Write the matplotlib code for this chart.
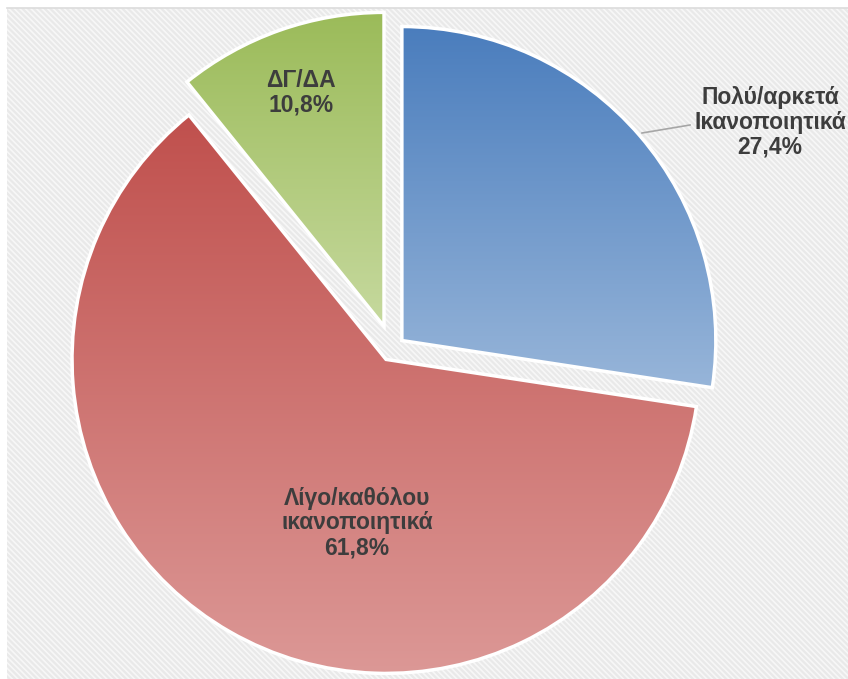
import numpy as np
import matplotlib
matplotlib.use("Agg")
import matplotlib.pyplot as plt
from matplotlib.patches import Rectangle, Wedge
from matplotlib.colors import LinearSegmentedColormap

# ---- data ----
categories = ["Πολύ/αρκετά\nΙκανοποιητικά", "Λίγο/καθόλου\nικανοποιητικά", "ΔΓ/ΔΑ"]
values = [27.4, 61.8, 10.8]
pct_labels = ["27,4%", "61,8%", "10,8%"]

# ---- style ----
top_colors = ["#4a7dbd", "#c0504d", "#9bbb59"]
bottom_colors = ["#97b5d9", "#dc9896", "#c6d99e"]
explode = [13, 12, 24]          # pixels offset
W, H = 848, 679
center = (392, H - 349)
radius = 314
label_pos = [(770, H - 122), (357, H - 523), (301, H - 93)]
text_color = "#3d3d3d"

fig = plt.figure(figsize=(W / 100, H / 100), dpi=100)
fig.patch.set_facecolor("white")
ax = fig.add_axes([0, 0, 1, 1])
ax.set_xlim(0, W)
ax.set_ylim(0, H)
ax.set_aspect("equal")
ax.axis("off")

# textured background
plt.rcParams["hatch.linewidth"] = 1.2
bg = Rectangle((7, 0), W - 7, H - 8, facecolor="#e9e9e9", edgecolor="#f7f7f7",
               hatch="\\\\\\\\\\\\", linewidth=0, zorder=0)
ax.add_patch(bg)
ax.plot([7, W], [H - 8, H - 8], color="#dcdcdc", lw=1.2, zorder=0.5)

wedges, _ = ax.pie(values, explode=explode, startangle=90, counterclock=False,
                   radius=radius, center=center, frame=False,
                   wedgeprops=dict(edgecolor="none", linewidth=0))
ax.set_xlim(0, W)
ax.set_ylim(0, H)

grad = np.linspace(0, 1, 256).reshape(-1, 1)
for w, c_top, c_bot in zip(wedges, top_colors, bottom_colors):
    path = w.get_path().transformed(w.get_patch_transform())
    x0, y0 = path.vertices.min(axis=0)
    x1, y1 = path.vertices.max(axis=0)
    cmap = LinearSegmentedColormap.from_list("g", [c_bot, c_top])
    im = ax.imshow(grad, cmap=cmap, extent=[x0, x1, y0, y1], origin="lower",
                   aspect="auto", zorder=2, interpolation="bilinear")
    im.set_clip_path(w)
    edge = Wedge(w.center, w.r, w.theta1, w.theta2, facecolor="none",
                 edgecolor="white", linewidth=2.5, zorder=3)
    ax.add_patch(edge)

ax.set_xlim(0, W)
ax.set_ylim(0, H)

for cat, pct, (lx, ly) in zip(categories, pct_labels, label_pos):
    ax.text(lx, ly, cat + "\n" + pct, ha="center", va="center",
            fontsize=16.5, fontweight="bold", color=text_color,
            family=["Liberation Sans", "DejaVu Sans"], linespacing=1.1, zorder=5)

# leader line for the first slice label
ax.plot([642, 690], [H - 133, H - 125], color="#a6a6a6", lw=1.2, zorder=4)

fig.savefig("out.png", dpi=100)
